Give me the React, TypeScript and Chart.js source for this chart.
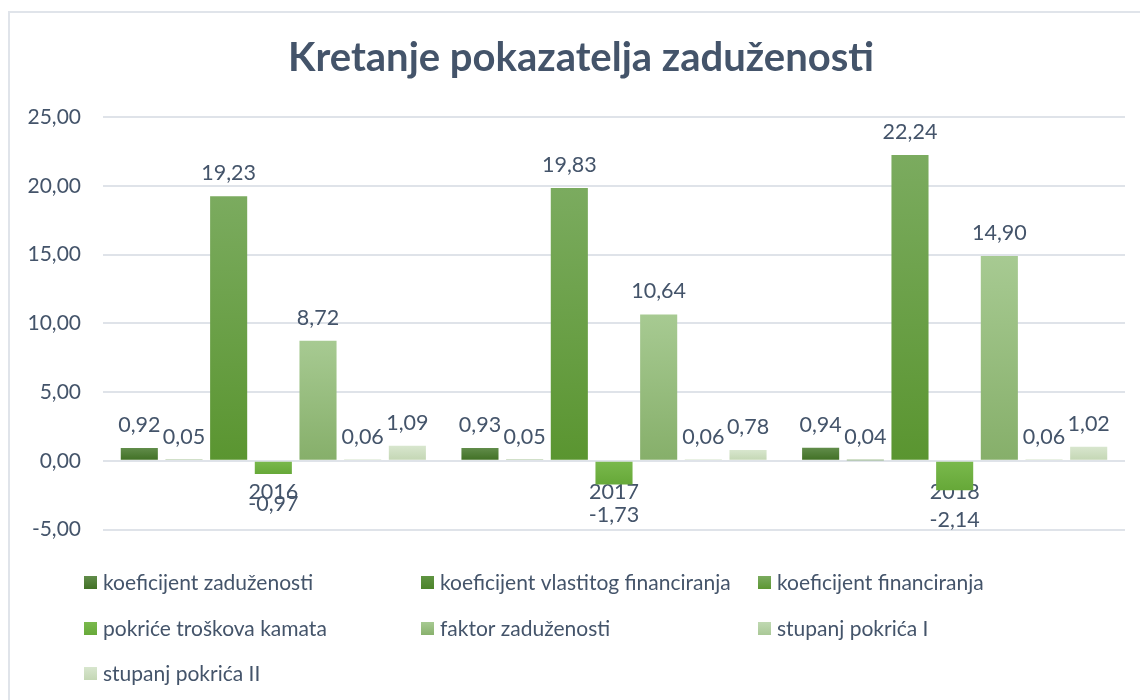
import React, { useEffect, useRef } from "react";
import { Chart, registerables } from "chart.js";

Chart.register(...registerables);

const title = "Kretanje pokazatelja zaduženosti";
const categories = ["2016", "2017", "2018"];
const seriesNames = [
  "koeficijent zaduženosti",
  "koeficijent vlastitog financiranja",
  "koeficijent financiranja",
  "pokriće troškova kamata",
  "faktor zaduženosti",
  "stupanj pokrića I",
  "stupanj pokrića II",
];
const koeficijentZaduzenosti = [0.92, 0.93, 0.94];
const koeficijentVlastitogFinanciranja = [0.05, 0.05, 0.04];
const koeficijentFinanciranja = [19.23, 19.83, 22.24];
const pokriceTroskovaKamata = [-0.97, -1.73, -2.14];
const faktorZaduzenosti = [8.72, 10.64, 14.9];
const stupanjPokricaI = [0.06, 0.06, 0.06];
const stupanjPokricaII = [1.09, 0.78, 1.02];
const seriesValues = [
  koeficijentZaduzenosti,
  koeficijentVlastitogFinanciranja,
  koeficijentFinanciranja,
  pokriceTroskovaKamata,
  faktorZaduzenosti,
  stupanjPokricaI,
  stupanjPokricaII,
];
const yMin = -5;
const yMax = 25;
const yStep = 5;

// gradient colours top -> bottom
const seriesColors: [string, string][] = [
  ["#618c4a", "#3f6f23"],
  ["#5f9442", "#4a8328"],
  ["#7bab5f", "#5a9530"],
  ["#7ab94d", "#66a838"],
  ["#a7ca92", "#86af6a"],
  ["#c0d9b2", "#a8c795"],
  ["#d8e6ce", "#c3d6b3"],
];

const TEXT = "#44546a";
const FONT = "Lato, 'Open Sans', sans-serif";

const fmt = (v: number) => v.toFixed(2).replace(".", ",");

const overlayPlugin = {
  id: "overlay",
  afterDatasetsDraw(chart: any) {
    const ctx = chart.ctx;
    ctx.save();
    ctx.fillStyle = TEXT;
    ctx.font = `21.5px ${FONT}`;
    ctx.textAlign = "center";
    ctx.textBaseline = "alphabetic";
    chart.data.datasets.forEach((ds: any, i: number) => {
      const meta = chart.getDatasetMeta(i);
      meta.data.forEach((el: any, j: number) => {
        const v = ds.data[j];
        if (v >= 0) ctx.fillText(fmt(v), el.x, el.y - 16);
        else ctx.fillText(fmt(v), el.x, el.y + 37);
      });
    });
    ctx.restore();
  },
  afterDraw(chart: any) {
    const ctx = chart.ctx;
    ctx.save();
    // title
    ctx.fillStyle = TEXT;
    ctx.font = `bold 40px ${FONT}`;
    ctx.textAlign = "center";
    ctx.textBaseline = "middle";
    ctx.fillText(title, 581, 58);
    // legend
    const colX = [84, 421, 758];
    const rowY = [583, 629, 674];
    ctx.font = `21px ${FONT}`;
    ctx.textAlign = "left";
    seriesNames.forEach((name, i) => {
      const x = colX[i % 3];
      const y = rowY[Math.floor(i / 3)];
      const g = ctx.createLinearGradient(0, y - 7, 0, y + 7);
      g.addColorStop(0, seriesColors[i][0]);
      g.addColorStop(1, seriesColors[i][1]);
      ctx.fillStyle = g;
      ctx.fillRect(x, y - 7, 13, 13);
      ctx.fillStyle = TEXT;
      ctx.fillText(name, x + 19, y);
    });
    ctx.restore();
  },
};

export default function App() {
  const ref = useRef<HTMLCanvasElement | null>(null);
  useEffect(() => {
    if (!ref.current) return;
    const chart = new Chart(ref.current, {
      type: "bar",
      data: {
        labels: categories,
        datasets: seriesNames.map((name, i) => ({
          label: name,
          data: seriesValues[i],
          backgroundColor: (c: any) => {
            const ch = c.chart;
            const y = ch.scales && ch.scales.y;
            const v = c.raw;
            if (!y || typeof v !== "number") return seriesColors[i][1];
            const top = y.getPixelForValue(Math.max(v, 0));
            const bot = y.getPixelForValue(Math.min(v, 0));
            if (!isFinite(top) || !isFinite(bot) || bot - top < 1) return seriesColors[i][1];
            const g = ch.ctx.createLinearGradient(0, top, 0, bot);
            g.addColorStop(0, seriesColors[i][0]);
            g.addColorStop(1, seriesColors[i][1]);
            return g;
          },
          borderWidth: 0,
          categoryPercentage: 0.918,
          barPercentage: 0.83,
        })),
      },
      options: {
        responsive: false,
        animation: false,
        devicePixelRatio: 1,
        layout: { padding: { top: 117, bottom: 170.5, left: 0, right: 15 } },
        plugins: {
          legend: { display: false },
          title: { display: false },
          tooltip: { enabled: false },
        },
        scales: {
          x: {
            position: { y: 0 } as any,
            grid: { display: false, drawTicks: false },
            border: { display: false },
            ticks: {
              color: TEXT,
              font: { family: FONT, size: 21.5 },
              padding: 18,
              maxRotation: 0,
            },
          },
          y: {
            min: yMin,
            max: yMax,
            afterFit: (s: any) => {
              s.width = 103;
            },
            grid: { color: "#dfe3e9", lineWidth: 2, drawTicks: false },
            border: { display: false },
            ticks: {
              stepSize: yStep,
              color: TEXT,
              font: { family: FONT, size: 21 },
              padding: 22,
              callback: (v: any) => fmt(Number(v)),
            },
          },
        },
      },
      plugins: [overlayPlugin],
    });
    return () => chart.destroy();
  }, []);
  return (
    <>
      <div
        style={{
          position: "fixed",
          left: 8,
          top: 11,
          width: 1200,
          height: 800,
          border: "2px solid #e0e4ea",
          boxSizing: "border-box",
          background: "#fff",
        }}
      />
      <canvas
        ref={ref}
        width={1140}
        height={700}
        style={{ position: "fixed", left: 0, top: 0, width: 1140, height: 700 }}
      />
    </>
  );
}
